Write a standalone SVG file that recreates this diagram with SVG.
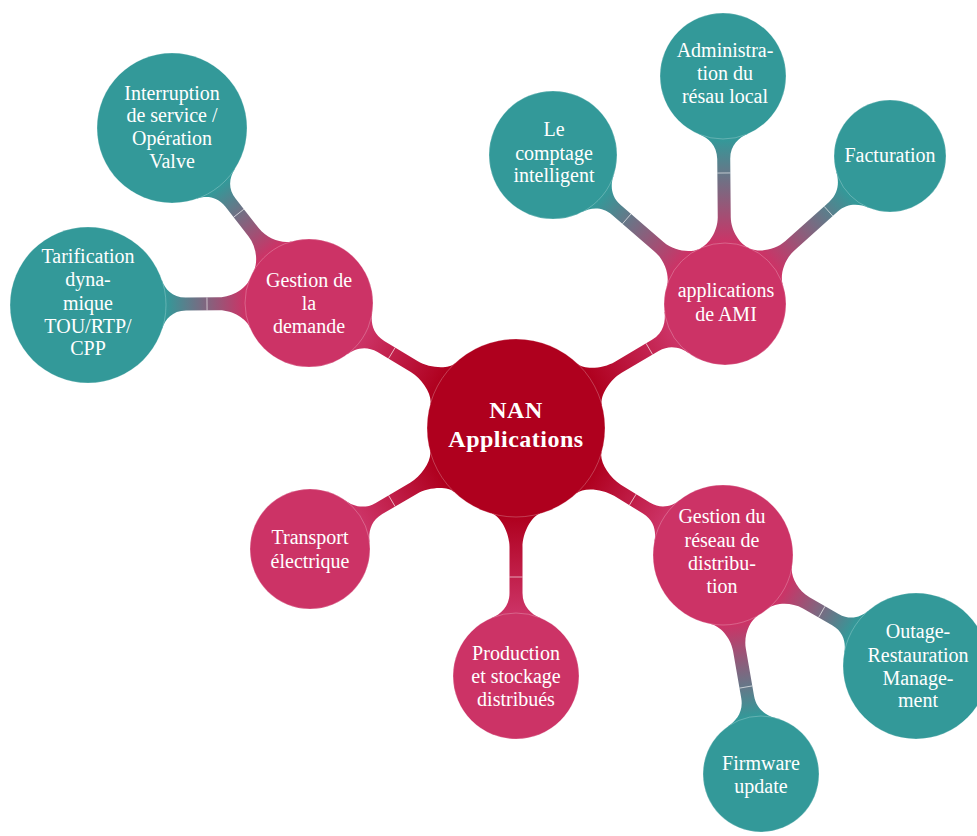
<svg xmlns="http://www.w3.org/2000/svg" width="977" height="836" viewBox="0 0 977 836">
<style>
.c0{fill:#AF001E}
.c1{fill:#CC3366}
.c2{fill:#339999}
.n circle{stroke:#fff;stroke-opacity:0.35;stroke-width:0.7}
text{font-family:"Liberation Serif","Times New Roman",serif;fill:#fff;text-anchor:middle;font-size:20px}
.t0{font-size:24px;font-weight:bold;letter-spacing:0.5px}
.tick{stroke:#fff;stroke-width:0.8;stroke-opacity:0.75}
</style>
<defs>
<linearGradient id="g1" gradientUnits="userSpaceOnUse" x1="89" y1="0" x2="177.8" y2="0"><stop offset="0" stop-color="#AF001E"/><stop offset="1" stop-color="#CC3366"/></linearGradient>
<linearGradient id="g2" gradientUnits="userSpaceOnUse" x1="89" y1="0" x2="182" y2="0"><stop offset="0" stop-color="#AF001E"/><stop offset="1" stop-color="#CC3366"/></linearGradient>
<linearGradient id="g3" gradientUnits="userSpaceOnUse" x1="89" y1="0" x2="172.9" y2="0"><stop offset="0" stop-color="#AF001E"/><stop offset="1" stop-color="#CC3366"/></linearGradient>
<linearGradient id="g4" gradientUnits="userSpaceOnUse" x1="89" y1="0" x2="185" y2="0"><stop offset="0" stop-color="#AF001E"/><stop offset="1" stop-color="#CC3366"/></linearGradient>
<linearGradient id="g5" gradientUnits="userSpaceOnUse" x1="89" y1="0" x2="178.9" y2="0"><stop offset="0" stop-color="#AF001E"/><stop offset="1" stop-color="#CC3366"/></linearGradient>
<linearGradient id="g6" gradientUnits="userSpaceOnUse" x1="64" y1="0" x2="147.2" y2="0"><stop offset="0" stop-color="#CC3366"/><stop offset="1" stop-color="#339999"/></linearGradient>
<linearGradient id="g7" gradientUnits="userSpaceOnUse" x1="64" y1="0" x2="143" y2="0"><stop offset="0" stop-color="#CC3366"/><stop offset="1" stop-color="#339999"/></linearGradient>
<linearGradient id="g8" gradientUnits="userSpaceOnUse" x1="61" y1="0" x2="163.6" y2="0"><stop offset="0" stop-color="#CC3366"/><stop offset="1" stop-color="#339999"/></linearGradient>
<linearGradient id="g9" gradientUnits="userSpaceOnUse" x1="61" y1="0" x2="165" y2="0"><stop offset="0" stop-color="#CC3366"/><stop offset="1" stop-color="#339999"/></linearGradient>
<linearGradient id="g10" gradientUnits="userSpaceOnUse" x1="61" y1="0" x2="165.65" y2="0"><stop offset="0" stop-color="#CC3366"/><stop offset="1" stop-color="#339999"/></linearGradient>
<linearGradient id="g11" gradientUnits="userSpaceOnUse" x1="70" y1="0" x2="149.6" y2="0"><stop offset="0" stop-color="#CC3366"/><stop offset="1" stop-color="#339999"/></linearGradient>
<linearGradient id="g12" gradientUnits="userSpaceOnUse" x1="70" y1="0" x2="164.3" y2="0"><stop offset="0" stop-color="#CC3366"/><stop offset="1" stop-color="#339999"/></linearGradient>
</defs>
<g id="connectors">
<g transform="translate(516,428) rotate(-148.9)">
<path fill="url(#g1)" d="M0,0 L85.7,24 C88.13,15.33 105,6.5 119,6.5 L157.8,6.5 C171.8,6.5 179.09,15.66 182.47,24 L241.8,0 L182.47,-24 C179.09,-15.66 171.8,-6.5 157.8,-6.5 L119,-6.5 C105,-6.5 88.13,-15.33 85.7,-24 Z"/>
<line class="tick" x1="145" y1="-6.5" x2="145" y2="6.5"/>
</g>
<g transform="translate(516,428) rotate(-30.68)">
<path fill="url(#g2)" d="M0,0 L85.7,24 C88.13,15.33 105,6.5 119,6.5 L162,6.5 C176,6.5 183.38,15.73 186.92,24 L243,0 L186.92,-24 C183.38,-15.73 176,-6.5 162,-6.5 L119,-6.5 C105,-6.5 88.13,-15.33 85.7,-24 Z"/>
<line class="tick" x1="155" y1="-6.5" x2="155" y2="6.5"/>
</g>
<g transform="translate(516,428) rotate(31.53)">
<path fill="url(#g3)" d="M0,0 L85.7,24 C88.13,15.33 105,6.5 119,6.5 L152.9,6.5 C166.9,6.5 174.05,15.55 177.14,24 L242.9,0 L177.14,-24 C174.05,-15.55 166.9,-6.5 152.9,-6.5 L119,-6.5 C105,-6.5 88.13,-15.33 85.7,-24 Z"/>
<line class="tick" x1="137" y1="-6.5" x2="137" y2="6.5"/>
</g>
<g transform="translate(516,428) rotate(90)">
<path fill="url(#g4)" d="M0,0 L85.7,24 C88.13,15.33 105,6.5 119,6.5 L165,6.5 C179,6.5 186.32,15.68 189.75,24 L248,0 L189.75,-24 C186.32,-15.68 179,-6.5 165,-6.5 L119,-6.5 C105,-6.5 88.13,-15.33 85.7,-24 Z"/>
<line class="tick" x1="149" y1="-6.5" x2="149" y2="6.5"/>
</g>
<g transform="translate(516,428) rotate(149.57)">
<path fill="url(#g5)" d="M0,0 L85.7,24 C88.13,15.33 105,6.5 119,6.5 L158.9,6.5 C172.9,6.5 180.31,15.75 183.91,24 L238.9,0 L183.91,-24 C180.31,-15.75 172.9,-6.5 158.9,-6.5 L119,-6.5 C105,-6.5 88.13,-15.33 85.7,-24 Z"/>
<line class="tick" x1="144" y1="-6.5" x2="144" y2="6.5"/>
</g>
<g transform="translate(309,303) rotate(-128.05)">
<path fill="url(#g6)" d="M0,0 L59.33,24 C62.71,15.66 76,6.5 90,6.5 L127.2,6.5 C141.2,6.5 148.26,15.47 151.14,24 L222.2,0 L151.14,-24 C148.26,-15.47 141.2,-6.5 127.2,-6.5 L90,-6.5 C76,-6.5 62.71,-15.66 59.33,-24 Z"/>
<line class="tick" x1="114" y1="-6.5" x2="114" y2="6.5"/>
</g>
<g transform="translate(309,303) rotate(179.48)">
<path fill="url(#g7)" d="M0,0 L59.33,24 C62.71,15.66 76,6.5 90,6.5 L123,6.5 C137,6.5 144.01,15.44 146.78,24 L221,0 L146.78,-24 C144.01,-15.44 137,-6.5 123,-6.5 L90,-6.5 C76,-6.5 62.71,-15.66 59.33,-24 Z"/>
<line class="tick" x1="102" y1="-6.5" x2="102" y2="6.5"/>
</g>
<g transform="translate(725,304) rotate(-139.1)">
<path fill="url(#g8)" d="M0,0 L56.08,24 C59.62,15.73 73,6.5 87,6.5 L143.6,6.5 C157.6,6.5 164.89,15.66 168.27,24 L227.6,0 L168.27,-24 C164.89,-15.66 157.6,-6.5 143.6,-6.5 L87,-6.5 C73,-6.5 59.62,-15.73 56.08,-24 Z"/>
<line class="tick" x1="130" y1="-6.5" x2="130" y2="6.5"/>
</g>
<g transform="translate(725,304) rotate(-90.5)">
<path fill="url(#g9)" d="M0,0 L56.08,24 C59.62,15.73 73,6.5 87,6.5 L145,6.5 C159,6.5 166.32,15.68 169.75,24 L228,0 L169.75,-24 C166.32,-15.68 159,-6.5 145,-6.5 L87,-6.5 C73,-6.5 59.62,-15.73 56.08,-24 Z"/>
<line class="tick" x1="131" y1="-6.5" x2="131" y2="6.5"/>
</g>
<g transform="translate(725,304) rotate(-41.89)">
<path fill="url(#g10)" d="M0,0 L56.08,24 C59.62,15.73 73,6.5 87,6.5 L145.65,6.5 C159.65,6.5 167.19,15.87 171.05,24 L221.65,0 L171.05,-24 C167.19,-15.87 159.65,-6.5 145.65,-6.5 L87,-6.5 C73,-6.5 59.62,-15.73 56.08,-24 Z"/>
<line class="tick" x1="139" y1="-6.5" x2="139" y2="6.5"/>
</g>
<g transform="translate(723,555) rotate(29.9)">
<path fill="url(#g11)" d="M0,0 L65.76,24 C68.85,15.55 82,6.5 96,6.5 L129.6,6.5 C143.6,6.5 150.7,15.5 153.66,24 L222.6,0 L153.66,-24 C150.7,-15.5 143.6,-6.5 129.6,-6.5 L96,-6.5 C82,-6.5 68.85,-15.55 65.76,-24 Z"/>
<line class="tick" x1="114" y1="-6.5" x2="114" y2="6.5"/>
</g>
<g transform="translate(723,555) rotate(80.16)">
<path fill="url(#g12)" d="M0,0 L65.76,24 C68.85,15.55 82,6.5 96,6.5 L144.3,6.5 C158.3,6.5 165.78,15.81 169.5,24 L222.3,0 L169.5,-24 C165.78,-15.81 158.3,-6.5 144.3,-6.5 L96,-6.5 C82,-6.5 68.85,-15.55 65.76,-24 Z"/>
<line class="tick" x1="134" y1="-6.5" x2="134" y2="6.5"/>
</g>
</g>
<g id="nan" class="n">
<circle class="c0" cx="516" cy="428" r="89"/>
<text class="t0" x="516" y="418">NAN</text>
<text class="t0" x="516" y="447">Applications</text>
</g>
<g id="gestion-demande" class="n">
<circle class="c1" cx="309" cy="303" r="64"/>
<text x="309" y="287">Gestion de</text>
<text x="309" y="310">la</text>
<text x="309" y="333">demande</text>
</g>
<g id="ami" class="n">
<circle class="c1" cx="725" cy="304" r="61"/>
<text x="726" y="297">applications</text>
<text x="726" y="321">de AMI</text>
</g>
<g id="gestion-reseau" class="n">
<circle class="c1" cx="723" cy="555" r="70"/>
<text x="722" y="523">Gestion du</text>
<text x="722" y="547">réseau de</text>
<text x="722" y="570">distribu-</text>
<text x="722" y="593">tion</text>
</g>
<g id="production" class="n">
<circle class="c1" cx="516" cy="676" r="63"/>
<text x="516" y="660">Production</text>
<text x="516" y="683">et stockage</text>
<text x="516" y="706">distribués</text>
</g>
<g id="transport" class="n">
<circle class="c1" cx="310" cy="549" r="60"/>
<text x="310" y="544">Transport</text>
<text x="310" y="568">électrique</text>
</g>
<g id="interruption" class="n">
<circle class="c2" cx="172" cy="128" r="75"/>
<text x="172" y="100">Interruption</text>
<text x="172" y="122">de service /</text>
<text x="172" y="145">Opération</text>
<text x="172" y="168">Valve</text>
</g>
<g id="tarification" class="n">
<circle class="c2" cx="88" cy="305" r="78"/>
<text x="88" y="263">Tarification</text>
<text x="88" y="286">dyna-</text>
<text x="88" y="310">mique</text>
<text x="88" y="333">TOU/RTP/</text>
<text x="88" y="355">CPP</text>
</g>
<g id="comptage" class="n">
<circle class="c2" cx="553" cy="155" r="64"/>
<text x="554" y="136">Le</text>
<text x="554" y="160">comptage</text>
<text x="554" y="182">intelligent</text>
</g>
<g id="administration" class="n">
<circle class="c2" cx="723" cy="76" r="63"/>
<text x="725" y="57">Administra-</text>
<text x="725" y="80">tion du</text>
<text x="725" y="103">résau local</text>
</g>
<g id="facturation" class="n">
<circle class="c2" cx="890" cy="156" r="56"/>
<text x="890" y="162">Facturation</text>
</g>
<g id="outage" class="n">
<circle class="c2" cx="916" cy="666" r="73"/>
<text x="918" y="638">Outage-</text>
<text x="918" y="662">Restauration</text>
<text x="918" y="685">Manage-</text>
<text x="918" y="707">ment</text>
</g>
<g id="firmware" class="n">
<circle class="c2" cx="761" cy="774" r="58"/>
<text x="761" y="770">Firmware</text>
<text x="761" y="793">update</text>
</g>
</svg>
